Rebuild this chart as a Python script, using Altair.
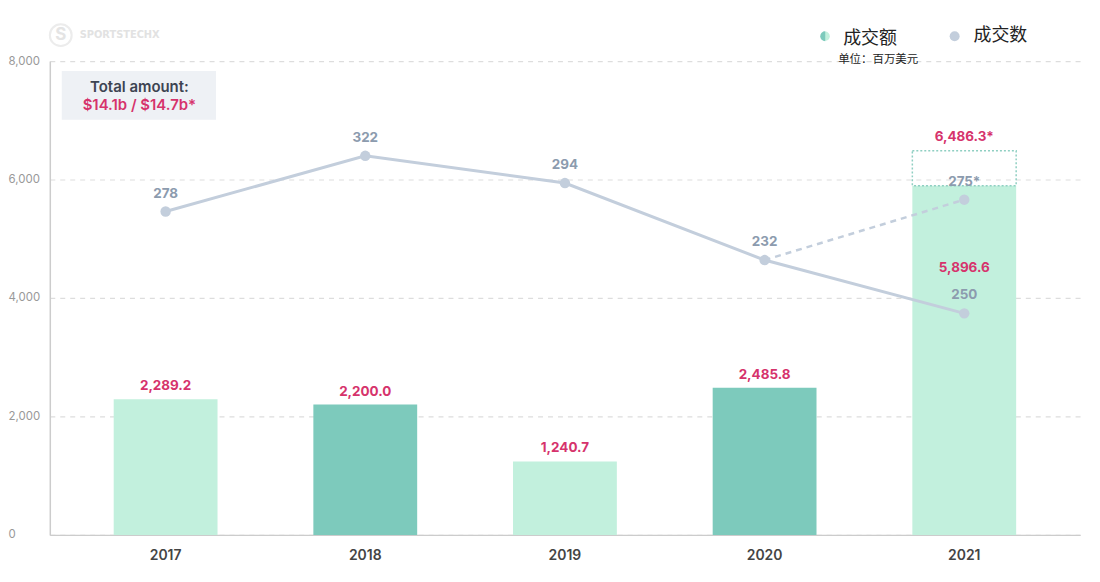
import altair as alt
import pandas as pd

# ---- data ----
years = ["2017", "2018", "2019", "2020", "2021"]
amounts = [2289.2, 2200.0, 1240.7, 2485.8, 5896.6]          # 成交额 (百万美元)
bar_shades = ["light", "dark", "light", "dark", "light"]
deal_counts = [278, 322, 294, 232, 250]                     # 成交数 labels
count_heights = [273, 320, 297, 232, 187]                   # plotted height of the count line (as drawn)
proj_year = "2021"
proj_amount = 6486.3
proj_count = 275
proj_count_height = 283
y_ticks = [0, 2000, 4000, 6000, 8000]

FONT = "Inter"
PINK = "#D6336C"
LINE = "#C3CEDC"
LINE_TXT = "#8C9BAE"
LIGHT = "#C2F0DD"
DARK = "#7DCABC"

df = pd.DataFrame({
    "year": years,
    "amount": amounts,
    "amount_label": [f"{v:,.1f}" for v in amounts],
    "shade": bar_shades,
    "count": deal_counts,
    "count_h": count_heights,
})
df_above = df[df["year"] != proj_year]
df_in = df[df["year"] == proj_year]

proj_df = pd.DataFrame({
    "year": [proj_year],
    "base": [amounts[years.index(proj_year)]],
    "proj": [proj_amount],
    "proj_label": [f"{proj_amount:,.1f}*"],
    "count_h": [proj_count_height],
    "count_label": [f"{proj_count}*"],
})
dash_df = pd.DataFrame({
    "year": [years[-2], proj_year],
    "count_h": [count_heights[-2], proj_count_height],
})

xscale = alt.Scale(domain=years, paddingInner=0.48, paddingOuter=0.32)
xenc = alt.X("year:N", scale=xscale, sort=years,
             axis=alt.Axis(title=None, labelAngle=0, ticks=False, domainColor="#CCCCCC",
                           domainWidth=1.5, labelColor="#444444", labelFontSize=14,
                           labelFontWeight=600, labelPadding=14, labelFont=FONT, grid=False))
yscale = alt.Scale(domain=[0, 8000], nice=False)
yaxis = alt.Axis(title=None, values=y_ticks, format=",.0f", grid=True, gridDash=[5, 5],
                 gridColor="#DDDDDD", gridWidth=1.2, domain=True, domainColor="#CCCCCC",
                 domainWidth=1.5, ticks=False, labelAlign="left", labelPadding=42,
                 labelColor="#999999", labelFontSize=11.5, labelFont=FONT,
                 labelBaseline="middle")

base = alt.Chart(df)

bars = base.mark_bar().encode(
    x=xenc,
    y=alt.Y("amount:Q", scale=yscale, axis=yaxis),
    color=alt.Color("shade:N", scale=alt.Scale(domain=["light", "dark"], range=[LIGHT, DARK]),
                    legend=None),
)
proj_box = alt.Chart(proj_df).mark_rect(fillOpacity=0, stroke="#8FCFC2", strokeWidth=1.5,
                                        strokeDash=[2, 2]).encode(
    x=alt.X("year:N", scale=xscale, sort=years),
    y=alt.Y("base:Q", scale=yscale),
    y2="proj:Q",
)
bar_labels = alt.Chart(df_above).mark_text(dy=-13, color=PINK, fontWeight="bold", fontSize=13.5,
                                           font=FONT, baseline="middle").encode(
    x=alt.X("year:N", scale=xscale, sort=years),
    y=alt.Y("amount:Q", scale=yscale),
    text="amount_label:N",
)
bar_label_in = alt.Chart(df_in).mark_text(dy=83, color=PINK, fontWeight="bold", fontSize=13.5,
                                          font=FONT, baseline="middle").encode(
    x=alt.X("year:N", scale=xscale, sort=years),
    y=alt.Y("amount:Q", scale=yscale),
    text="amount_label:N",
)
proj_label = alt.Chart(proj_df).mark_text(dy=-14, color=PINK, fontWeight="bold", fontSize=13.5,
                                          font=FONT, baseline="middle").encode(
    x=alt.X("year:N", scale=xscale, sort=years),
    y=alt.Y("proj:Q", scale=yscale),
    text="proj_label:N",
)
amount_layer = alt.layer(bars, proj_box, bar_labels, bar_label_in, proj_label)

cscale = alt.Scale(domain=[0, 400], nice=False)
cy = alt.Y("count_h:Q", scale=cscale, axis=None)
cx = alt.X("year:N", scale=xscale, sort=years)

dash_line = alt.Chart(dash_df).mark_line(color=LINE, strokeWidth=2.5, strokeDash=[6, 5]).encode(
    x=cx, y=cy)
line = base.mark_line(color=LINE, strokeWidth=3).encode(x=cx, y=cy)
pts = base.mark_circle(color=LINE, size=110, opacity=1).encode(x=cx, y=cy)
pt_labels = base.mark_text(dy=-18, color=LINE_TXT, fontWeight="bold", fontSize=13.5,
                           font=FONT, baseline="middle").encode(x=cx, y=cy, text="count:N")
proj_pt = alt.Chart(proj_df).mark_circle(color=LINE, size=110, opacity=1).encode(x=cx, y=cy)
proj_pt_label = alt.Chart(proj_df).mark_text(dy=-18, color=LINE_TXT, fontWeight="bold",
                                             fontSize=13.5, font=FONT, baseline="middle").encode(
    x=cx, y=cy, text="count_label:N")
count_layer = alt.layer(dash_line, line, pts, pt_labels, proj_pt, proj_pt_label)

# ---- annotations (logo, total box, legend) ----
one = pd.DataFrame({"k": [0]})
ann = alt.Chart(one)

total_box = ann.mark_rect(color="#EEF1F5").encode(
    x=alt.value(12), x2=alt.value(167), y=alt.value(10), y2=alt.value(59))
total_t1 = ann.mark_text(text="Total amount:", font=FONT, fontSize=15, fontWeight=600,
                         color="#3D4452", align="center", baseline="middle").encode(
    x=alt.value(90), y=alt.value(26))
total_t2 = ann.mark_text(text="$14.1b / $14.7b*", font=FONT, fontSize=15, fontWeight=600,
                         color=PINK, align="center", baseline="middle").encode(
    x=alt.value(90), y=alt.value(44))

logo_icon = ann.mark_point(shape="circle", size=480, filled=False, color="#E4E4E4",
                           strokeWidth=2).encode(x=alt.value(11), y=alt.value(-26))
logo_s = ann.mark_text(text="S", font=FONT, fontSize=17, fontWeight="bold", color="#E4E4E4",
                       align="center", baseline="middle").encode(x=alt.value(11), y=alt.value(-26))
logo_t = ann.mark_text(text="SPORTSTECHX", font="DejaVu Sans Condensed", fontSize=11,
                       fontWeight="bold", color="#E2E2E2", align="left",
                       baseline="middle").encode(x=alt.value(30), y=alt.value(-26))

leg_c1 = ann.mark_circle(color=LIGHT, size=85, opacity=1).encode(x=alt.value(779), y=alt.value(-25))
leg_c1h = ann.mark_arc(radius=5, theta=3.1416, theta2=6.2832, color=DARK).encode(
    x=alt.value(779), y=alt.value(-25))
leg_t1 = ann.mark_text(text="成交额", font="Noto Sans CJK SC", fontSize=18, color="#222222",
                       align="left", baseline="middle").encode(x=alt.value(797), y=alt.value(-22))
leg_c2 = ann.mark_circle(color=LINE, size=100, opacity=1).encode(x=alt.value(909), y=alt.value(-25))
leg_t2 = ann.mark_text(text="成交数", font="Noto Sans CJK SC", fontSize=18, color="#222222",
                       align="left", baseline="middle").encode(x=alt.value(928), y=alt.value(-25))
leg_unit = ann.mark_text(text="单位：百万美元", font="Noto Sans CJK SC", fontSize=11.5,
                         color="#222222", align="left", baseline="middle").encode(
    x=alt.value(792), y=alt.value(-1))

annotations = alt.layer(total_box, total_t1, total_t2, logo_icon, logo_s, logo_t,
                        leg_c1, leg_c1h, leg_t1, leg_c2, leg_t2, leg_unit)

chart = alt.layer(amount_layer, count_layer, annotations).resolve_scale(
    y="independent"
).properties(
    width=1035, height=476,
    autosize=alt.AutoSizeParams(type="none"),
    padding={"left": 42, "top": 52, "right": 12, "bottom": 40},
    background="white",
).configure_view(stroke=None)

chart.save("out.html", embed_options={"renderer": "svg", "actions": False})
